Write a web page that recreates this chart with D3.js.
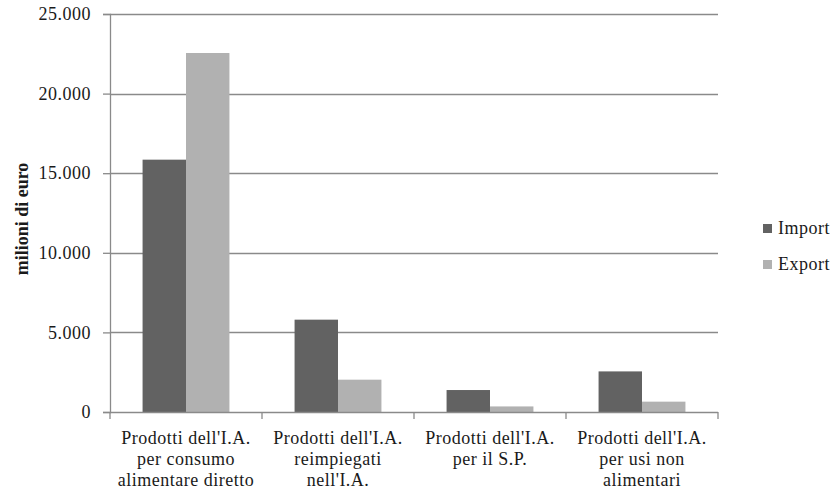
<!DOCTYPE html>
<html>
<head>
<meta charset="utf-8">
<script src="https://cdn.jsdelivr.net/npm/d3@7"></script>
<style>
  html, body { margin: 0; padding: 0; background: #fff; }
  svg text { font-family: "Liberation Serif", "Times New Roman", serif; fill: #1a1a1a; }
</style>
</head>
<body>
<svg id="chart" width="835" height="492"></svg>
<script>
// Categories (multi-line labels) and values in millions of euro
const categories = [
  ["Prodotti dell'I.A.", "per consumo", "alimentare diretto"],
  ["Prodotti dell'I.A.", "reimpiegati", "nell'I.A."],
  ["Prodotti dell'I.A.", "per il S.P."],
  ["Prodotti dell'I.A.", "per usi non", "alimentari"]
];
const seriesNames = ["Import", "Export"];
const importValues = [15850, 5800, 1380, 2550];
const exportValues = [22550, 2030, 350, 650];
const yTicks = [0, 5000, 10000, 15000, 20000, 25000];
const yTitle = "milioni di euro";

const colors = { Import: "#626262", Export: "#b1b1b1" };
const gridColor = "#8a8a8a";

const svg = d3.select("#chart");
const plot = { left: 110, right: 718, top: 14, bottom: 412 };

const x0 = d3.scaleBand()
  .domain(d3.range(categories.length))
  .range([plot.left, plot.right])
  .paddingInner(0).paddingOuter(0);

// Gap between clusters = 1.5 x bar width
const x1 = d3.scaleBand()
  .domain(seriesNames)
  .range([0, x0.bandwidth()])
  .paddingInner(0)
  .paddingOuter(0.75);

const y = d3.scaleLinear().domain([0, 25000]).range([plot.bottom, plot.top]);
const fmt = v => d3.format(",")(v).replace(/,/g, ".");

// Gridlines
svg.append("g")
  .selectAll("line")
  .data(yTicks.filter(t => t > 0))
  .join("line")
  .attr("x1", plot.left).attr("x2", plot.right)
  .attr("y1", d => Math.round(y(d)) + 0.5).attr("y2", d => Math.round(y(d)) + 0.5)
  .attr("stroke", gridColor).attr("stroke-width", 1.3);

// Bars
const data = categories.map((c, i) => ({ i, Import: importValues[i], Export: exportValues[i] }));
const groups = svg.append("g").selectAll("g")
  .data(data).join("g")
  .attr("transform", d => `translate(${x0(d.i)},0)`);
groups.selectAll("rect")
  .data(d => seriesNames.map(k => ({ key: k, value: d[k] })))
  .join("rect")
  .attr("x", d => x1(d.key))
  .attr("width", x1.bandwidth())
  .attr("y", d => y(d.value))
  .attr("height", d => y(0) - y(d.value))
  .attr("fill", d => colors[d.key]);

// Y axis
const yAxis = svg.append("g")
  .attr("transform", `translate(${plot.left},0)`)
  .call(d3.axisLeft(y).tickValues(yTicks).tickFormat(fmt).tickSize(7).tickPadding(12));
yAxis.select(".domain").attr("stroke", gridColor).attr("stroke-width", 1.3);
yAxis.selectAll(".tick line").attr("stroke", gridColor).attr("stroke-width", 1.3);
yAxis.selectAll(".tick text")
  .attr("font-size", 18).attr("letter-spacing", "0.5px")
  .attr("fill", "#1a1a1a")
  .style("font-family", "'Liberation Serif', serif");

// X axis with cluster separators
const xAxis = svg.append("g")
  .attr("transform", `translate(0,${plot.bottom})`);
xAxis.append("line")
  .attr("x1", plot.left).attr("x2", plot.right)
  .attr("y1", 0.5).attr("y2", 0.5)
  .attr("stroke", gridColor).attr("stroke-width", 1.3);
xAxis.selectAll("line.sep")
  .data(d3.range(categories.length + 1))
  .join("line")
  .attr("class", "sep")
  .attr("x1", d => plot.left + d * x0.bandwidth())
  .attr("x2", d => plot.left + d * x0.bandwidth())
  .attr("y1", 0).attr("y2", 7)
  .attr("stroke", gridColor).attr("stroke-width", 1.3);

// Category labels
const labels = svg.append("g").selectAll("text")
  .data(categories).join("text")
  .attr("text-anchor", "middle")
  .attr("font-size", 18).attr("letter-spacing", "0.5px")
  .attr("transform", (d, i) => `translate(${x0(i) + x0.bandwidth() / 2},${plot.bottom + 32})`);
labels.selectAll("tspan")
  .data(d => d).join("tspan")
  .attr("x", 0)
  .attr("y", (d, j) => j * 21)
  .text(d => d);

// Y axis title
svg.append("text")
  .attr("transform", `translate(28,${(plot.top + plot.bottom) / 2 + 6}) rotate(-90)`)
  .attr("text-anchor", "middle")
  .attr("font-size", 18).attr("font-weight", "bold")
  .text(yTitle);

// Legend
const legend = svg.append("g").attr("transform", "translate(763,224)");
const li = legend.selectAll("g").data(seriesNames).join("g")
  .attr("transform", (d, i) => `translate(0,${i * 36})`);
li.append("rect").attr("width", 9).attr("height", 9).attr("fill", d => colors[d]);
li.append("text")
  .attr("x", 15).attr("y", 10)
  .attr("font-size", 18).attr("letter-spacing", "0.5px")
  .text(d => d);
</script>
</body>
</html>
